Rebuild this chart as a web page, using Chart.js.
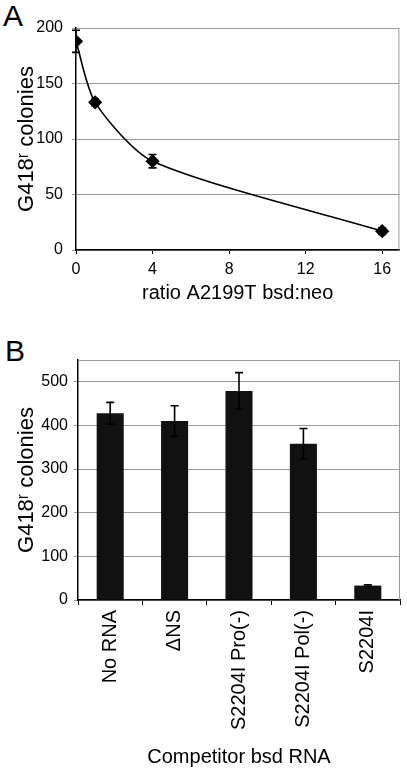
<!DOCTYPE html>
<html>
<head>
<meta charset="utf-8">
<script src="https://cdn.jsdelivr.net/npm/chart.js@4/dist/chart.umd.min.js"></script>
<style>
  body { margin: 0; background: #fff; width: 407px; height: 771px; position: relative; overflow: hidden; }
  .panel { position: absolute; left: 0; }
  .tag { position: absolute; font: 30px "Liberation Sans", Arial, sans-serif; line-height: 1; color: #000; }
</style>
</head>
<body>
<div class="tag" style="left:3px; top:1px;">A</div>
<div class="tag" style="left:5px; top:336px;">B</div>
<div class="panel" style="top:0;"><canvas id="chartA" width="407" height="310"></canvas></div>
<div class="panel" style="top:320px;"><canvas id="chartB" width="407" height="451"></canvas></div>
<script>
// --- datos panel A ---
const aRatio = [0, 1, 4, 16];
const aColonies = [188, 133, 80, 17];
const aErr = [10, 3, 6, 3];
const aXTicks = [0, 4, 8, 12, 16];
const aYTicks = [0, 50, 100, 150, 200];

// --- datos panel B ---
const bLabels = ['No RNA', '\u0394NS', 'S2204I Pro(-)', 'S2204I Pol(-)', 'S2204I'];
const bColonies = [428, 410, 479, 358, 33];
const bErr = [25, 35, 42, 35, 2];
const bYTicks = [0, 100, 200, 300, 400, 500];

Chart.defaults.font.family = '"Liberation Sans", Arial, sans-serif';
Chart.defaults.color = '#000';
Chart.defaults.animation = false;

const GRID = '#9a9a9a';

// barras de error, desde las escalas
function errorBars(errs) {
  return {
    id: 'errorBars',
    afterDatasetsDraw(chart) {
      const ctx = chart.ctx;
      const meta = chart.getDatasetMeta(0);
      const ys = chart.scales.y;
      const vals = chart.data.datasets[0].data;
      ctx.save();
      ctx.strokeStyle = '#000';
      ctx.lineWidth = 1.6;
      meta.data.forEach((el, i) => {
        const v = typeof vals[i] === 'object' ? vals[i].y : vals[i];
        const top = ys.getPixelForValue(v + errs[i]);
        const bot = ys.getPixelForValue(v - errs[i]);
        ctx.beginPath();
        ctx.moveTo(el.x, top); ctx.lineTo(el.x, bot);
        ctx.moveTo(el.x - 4, top); ctx.lineTo(el.x + 4, top);
        ctx.moveTo(el.x - 4, bot); ctx.lineTo(el.x + 4, bot);
        ctx.stroke();
      });
      ctx.restore();
    }
  };
}

// marco gris arriba y a la derecha
const frame = {
  id: 'frame',
  beforeDatasetsDraw(chart) {
    const { ctx, chartArea: a } = chart;
    ctx.save();
    ctx.strokeStyle = GRID;
    ctx.lineWidth = 1;
    ctx.beginPath();
    ctx.moveTo(a.left, a.top + 0.5); ctx.lineTo(a.right - 0.5, a.top + 0.5); ctx.lineTo(a.right - 0.5, a.bottom);
    ctx.stroke();
    ctx.restore();
  }
};

const yTitle = (pad) => ({ display: true, text: 'G418\u02b3 colonies', font: { size: 22 }, padding: { top: pad, bottom: 0 } });

new Chart(document.getElementById('chartA'), {
  type: 'line',
  data: {
    datasets: [{
      data: aRatio.map((x, i) => ({ x: x, y: aColonies[i] })),
      borderColor: '#000',
      backgroundColor: '#000',
      borderWidth: 1.6,
      tension: 0.25,
      pointStyle: 'rectRot',
      pointRadius: 6,
      pointBackgroundColor: '#000'
    }]
  },
  options: {
    responsive: false,
    layout: { padding: { left: 0, top: 28, right: 7, bottom: 0 } },
    plugins: { legend: { display: false }, tooltip: { enabled: false } },
    scales: {
      x: {
        type: 'linear', min: 0, max: 16.9,
        afterBuildTicks: s => { s.ticks = aXTicks.map(v => ({ value: v })); },
        afterFit: s => { s.height = 60; },
        grid: { drawOnChartArea: false, tickLength: 4, color: '#000' },
        border: { color: '#000', width: 1.5 },
        ticks: { font: { size: 16 }, padding: 6, maxRotation: 0 },
        title: { display: true, text: 'ratio A2199T bsd:neo', font: { size: 20 }, padding: { top: 0, bottom: 5 } }
      },
      y: {
        min: 0, max: 200,
        afterBuildTicks: s => { s.ticks = aYTicks.map(v => ({ value: v })); },
        afterFit: s => { s.width = 76; },
        grid: { color: GRID, tickLength: 4 },
        border: { color: '#000', width: 1.5 },
        ticks: { font: { size: 16 }, padding: 9 },
        title: yTitle(14)
      }
    }
  },
  plugins: [frame, errorBars(aErr)]
});

new Chart(document.getElementById('chartB'), {
  type: 'bar',
  data: {
    labels: bLabels,
    datasets: [{
      data: bColonies,
      backgroundColor: '#111',
      borderColor: '#000',
      borderWidth: 0,
      barPercentage: 0.42,
      categoryPercentage: 1
    }]
  },
  options: {
    responsive: false,
    layout: { padding: { left: 0, top: 40, right: 7, bottom: 0 } },
    plugins: { legend: { display: false }, tooltip: { enabled: false } },
    scales: {
      x: {
        afterFit: s => { s.height = 171; },
        grid: { drawOnChartArea: false, offset: true, tickLength: 5, color: '#000' },
        border: { color: '#000', width: 1.5 },
        ticks: { font: { size: 20 }, padding: 5, minRotation: 90, maxRotation: 90, autoSkip: false },
        title: { display: true, text: 'Competitor bsd RNA', font: { size: 20 }, padding: { top: 0, bottom: 2 } }
      },
      y: {
        min: 0, max: 550,
        afterBuildTicks: s => { s.ticks = bYTicks.map(v => ({ value: v })); },
        afterFit: s => { s.width = 78; },
        grid: { color: GRID, tickLength: 4 },
        border: { color: '#000', width: 1.5 },
        ticks: { font: { size: 16 }, padding: 6 },
        title: yTitle(14)
      }
    }
  },
  plugins: [frame, errorBars(bErr)]
});
</script>
</body>
</html>
